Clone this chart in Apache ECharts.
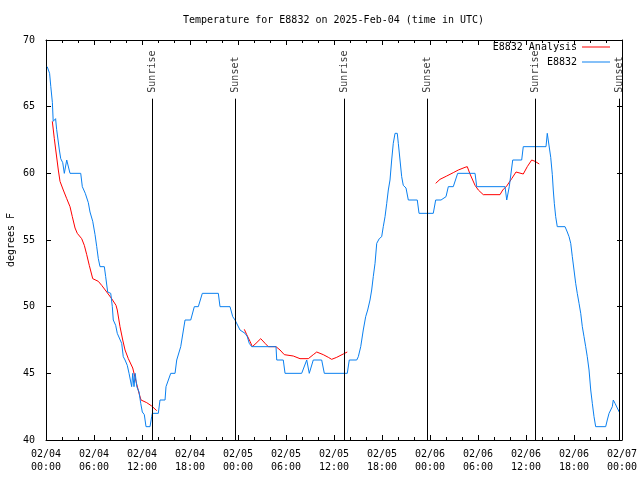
<!DOCTYPE html>
<html><head><meta charset="utf-8">
<script src="https://cdn.jsdelivr.net/npm/echarts/dist/echarts.min.js"></script>
<style>html,body{margin:0;padding:0;background:#fff}#c{width:640px;height:480px}</style>
</head><body><div id="c"></div>
<script>
const FONT = '"DejaVu Sans Mono","Liberation Mono",monospace';
const titleText = 'Temperature for E8832 on 2025-Feb-04 (time in UTC)';
const yAxisName = 'degrees F';
const seriesNames = ['E8832 Analysis', 'E8832'];
const tickDates = ['02/04','02/04','02/04','02/04','02/05','02/05','02/05','02/05','02/06','02/06','02/06','02/06','02/07'];
const tickTimes = ['00:00','06:00','12:00','18:00','00:00','06:00','12:00','18:00','00:00','06:00','12:00','18:00','00:00'];

// hours since 02/04 00:00 UTC
const sunHours  = [13.3, 23.66, 37.29, 47.66, 61.17, 71.7];
const sunLabels = ['Sunrise','Sunset','Sunrise','Sunset','Sunrise','Sunset'];

const obsHours = [0.15,0.45,0.6,0.8,0.9,1.05,1.2,1.33,1.55,1.67,1.84,2.09,2.29,2.59,2.84,3.0,4.34,4.54,4.91,5.29,5.5,5.84,6.13,6.34,6.54,6.75,7.29,7.46,7.71,8.09,8.29,8.41,8.71,8.91,9.16,9.46,9.66,9.88,10.16,10.38,10.71,10.84,11.0,11.15,11.35,11.63,11.84,12.04,12.29,12.5,13.0,13.21,13.29,14.04,14.25,14.88,15.0,15.59,16.13,16.34,16.84,17.09,17.38,18.09,18.54,19.04,19.54,21.54,21.75,23.0,23.34,23.63,24.25,24.88,25.16,25.41,25.71,28.75,28.84,29.66,29.88,31.96,32.59,32.91,33.41,34.46,34.79,37.66,37.91,38.84,39.04,39.34,39.66,39.96,40.21,40.5,40.71,40.91,41.13,41.34,41.66,41.96,42.16,42.38,42.59,42.79,43.0,43.21,43.41,43.63,43.91,44.04,44.25,44.46,44.66,45.0,45.29,46.41,46.63,48.41,48.71,49.38,49.6,50.0,50.29,50.91,51.46,53.63,53.84,57.38,57.59,57.79,57.91,58.34,59.46,59.66,62.5,62.66,62.91,63.09,63.29,63.41,63.54,63.71,63.91,64.88,65.16,65.38,65.59,65.79,66.0,66.21,66.41,66.63,66.84,67.04,67.25,67.46,67.66,67.88,68.09,68.29,68.5,68.71,69.96,70.16,70.38,70.59,70.79,70.91,71.13,71.41,71.66];
const obsTemps = [68,67.5,66.5,65.3,63.9,63.75,64.1,63.3,63.25,61.75,61.1,60.8,60,61,61,60,60,59,58.5,57.8,57.1,56.4,55.4,54.5,53.6,53,53,52.25,51.1,51,50,49,48.6,48,48,47.25,46.25,46,45.6,45,44,45,44,45,44,43.6,42.75,42.1,41.9,41,41,41.75,42,42,43,43,44,45,45,46,47,47,49,49,50,50,51,51,50,50,49.25,49,48.25,48,47.75,47.25,47,47,46,46,45,45,46,45,46,46,45,45,46,46,46.25,47,48.25,49.25,49.75,50.5,51.25,52.25,53.25,54.75,55.1,55.25,56,56.75,57.75,58.75,59.5,61,62.25,63,63,62.25,61,59.75,59.1,58.9,58,58,57,57,58,58,57.9,58.25,59,59,60,60,59,59,58,58,59,61,61,62,62,63,63,61.2,59.9,58.75,57.75,56.75,56,56,55.6,55.25,54.75,53.75,52.75,51.75,51,50.25,49.5,48.5,47.75,47,46.25,45.25,43.75,42.75,41.75,41,41,41.5,42,42,42.5,43,42.75,42.4,42.1];

const anHours = [0.79,1.04,1.25,1.54,1.75,2.16,2.59,3.0,3.29,3.63,3.91,4.46,4.79,5.09,5.41,5.84,6.54,6.96,7.59,8.21,8.75,8.91,9.25,9.59,9.88,10.29,10.84,11.25,11.63,11.88,12.59,13.21,13.84,
  19.0,
  24.79,25.09,25.5,25.79,26.25,26.84,27.38,27.79,28.75,29.25,29.79,30.91,31.75,32.79,33.41,33.84,34.66,35.29,35.71,36.34,37.16,37.66,
  43.0,
  48.71,49.25,50.09,50.91,51.54,52.38,52.66,53.0,53.63,54.04,54.66,56.75,57.09,57.59,58.21,58.75,59.66,60.16,60.71,61.13,61.66];
const anTemps = [63.9,62.6,61.6,60.25,59.4,58.75,58.1,57.5,56.75,55.9,55.5,55.1,54.6,53.9,53.1,52.1,51.9,51.6,51.1,50.6,50.1,49.75,48.5,47.5,46.75,46.1,45.4,44.4,43.5,43.0,42.8,42.55,42.2,
  '-',
  48.3,47.9,47.4,47.0,47.25,47.6,47.25,47.0,47.0,46.75,46.4,46.3,46.1,46.1,46.4,46.6,46.4,46.2,46.05,46.2,46.45,46.6,
  '-',
  59.25,59.55,59.8,60.05,60.25,60.45,60.5,59.95,59.1,58.75,58.4,58.4,58.75,59.05,59.6,60.1,59.95,60.5,61.0,60.9,60.7];

const SUN_TOP = 65.6;
const LEGEND_ICON = 'path://M0,0H28V1H0Z';

const chart = echarts.init(document.getElementById('c'), null, {renderer: 'canvas'});
const txt = {color: '#000', fontFamily: FONT, fontSize: 10};
const xBase = {
  type: 'value', min: 0, max: 72, interval: 6,
  splitLine: {show: false},
  axisLine: {show: true, onZero: false, lineStyle: {color: '#000', width: 1}},
  axisTick: {show: true, inside: true, length: 5, lineStyle: {color: '#000'}},
  minorTick: {show: true, splitNumber: 3, length: 3, lineStyle: {color: '#000'}},
  minorSplitLine: {show: false}
};
const yBase = {
  type: 'value', min: 40, max: 70, interval: 5,
  splitLine: {show: false},
  axisLine: {show: true, onZero: false, lineStyle: {color: '#000', width: 1}},
  axisTick: {show: true, inside: true, length: 5, lineStyle: {color: '#000'}}
};

chart.setOption({
  animation: false,
  backgroundColor: '#fff',
  title: {text: titleText, left: 183, top: 15, padding: 0,
          textStyle: Object.assign({fontWeight: 'normal'}, txt)},
  legend: {
    data: [
      {name: seriesNames[0], icon: LEGEND_ICON},
      {name: seriesNames[1], icon: LEGEND_ICON}
    ],
    orient: 'vertical', align: 'right', right: 30, top: 42,
    itemWidth: 28, itemHeight: 12, itemGap: 5, padding: 0, symbolKeepAspect: true,
    textStyle: txt
  },
  grid: {left: 46, right: 18, top: 40, bottom: 40, containLabel: false, outerBoundsMode: 'none'},
  xAxis: [
    Object.assign({}, xBase, {position: 'bottom',
      axisLabel: Object.assign({margin: 8, lineHeight: 13,
        formatter: v => { const i = Math.round(v / 6); return tickDates[i] + '\n' + tickTimes[i]; }}, txt)}),
    Object.assign({}, xBase, {position: 'top', axisLabel: {show: false}})
  ],
  yAxis: [
    Object.assign({}, yBase, {position: 'left', name: yAxisName, nameLocation: 'middle', nameGap: 30,
      nameMoveOverlap: false,
      nameRotate: 90, nameTextStyle: txt, axisLabel: Object.assign({margin: 11}, txt)}),
    Object.assign({}, yBase, {position: 'right', axisLabel: {show: false}})
  ],
  series: [
    {
      name: seriesNames[0], type: 'line', symbol: 'none', connectNulls: false,
      lineStyle: {color: '#ff0000', width: 1}, itemStyle: {color: '#ff0000'},
      data: anHours.map((h, i) => [h, anTemps[i]]), z: 2
    },
    {
      name: seriesNames[1], type: 'line', symbol: 'none',
      lineStyle: {color: '#0a80f0', width: 1}, itemStyle: {color: '#0a80f0'},
      data: obsHours.map((h, i) => [h, obsTemps[i]]), z: 3
    },
    {
      name: 'sun', type: 'scatter', symbolSize: 0, silent: true, z: 4,
      data: sunHours.map(h => [h, SUN_TOP]),
      label: Object.assign({show: true, position: 'top', distance: 6, rotate: 90,
        align: 'left', verticalAlign: 'middle',
        formatter: p => sunLabels[p.dataIndex]}, txt),
      markLine: {
        silent: true, symbol: 'none', animation: false,
        label: {show: false},
        lineStyle: {color: '#000', width: 1, type: 'solid'},
        data: sunHours.map(h => [{coord: [h, 40]}, {coord: [h, SUN_TOP]}])
      }
    }
  ]
});
</script></body></html>
